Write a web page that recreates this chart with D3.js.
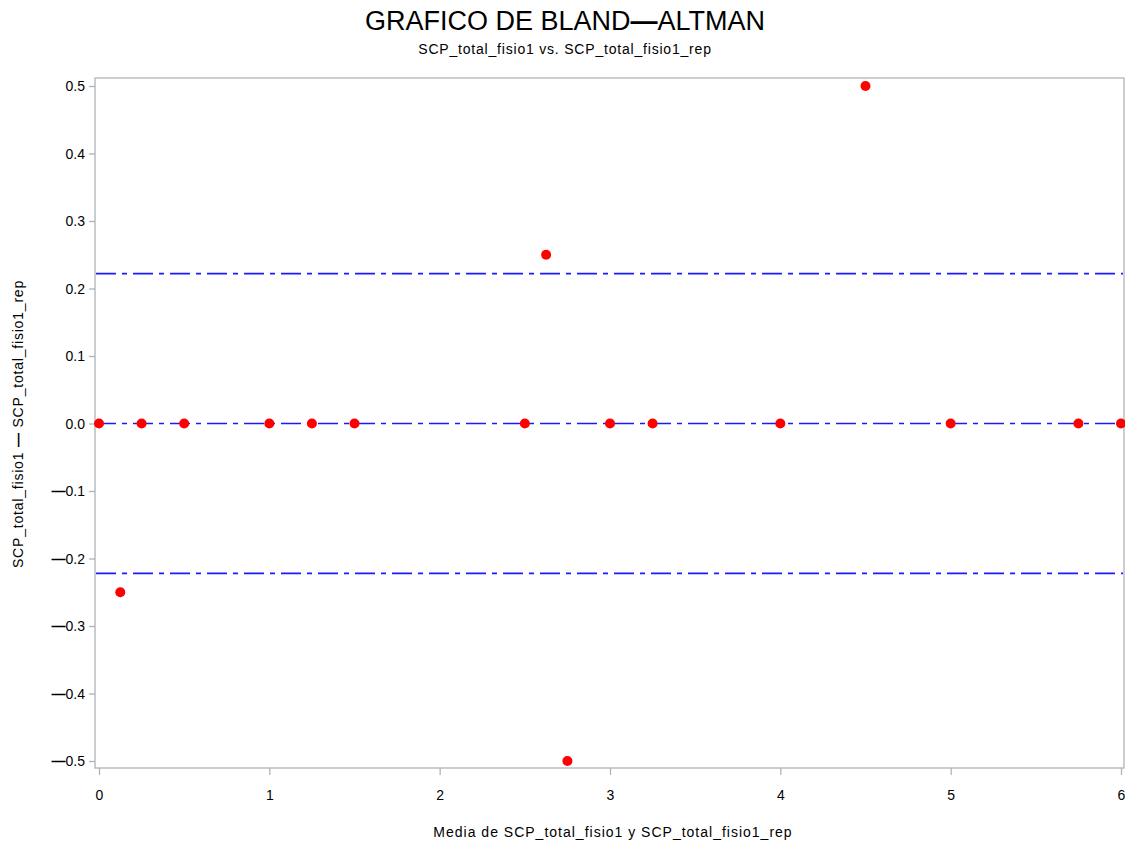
<!DOCTYPE html>
<html lang="es">
<head>
<meta charset="UTF-8">
<title>Grafico de Bland-Altman</title>
<script src="https://cdn.jsdelivr.net/npm/d3@7"></script>
<style>
  body { margin: 0; background: #fff; }
  text { font-family: "Liberation Sans", Arial, sans-serif; fill: #000; }
</style>
</head>
<body>
<div id="chart"></div>
<script>
// data
var meanVals = [0, 0.125, 0.25, 0.5, 1, 1.25, 1.5, 2.5, 2.625, 2.75, 3, 3.25, 4, 4.5, 5, 5.75, 6];
var diffVals = [0, -0.25, 0, 0, 0, 0, 0, 0, 0.25, -0.5, 0, 0, 0, 0.5, 0, 0, 0];
var refLines = [0.222, 0, -0.222];
var xTicks = [0, 1, 2, 3, 4, 5, 6];
var yTicks = [0.5, 0.4, 0.3, 0.2, 0.1, 0.0, -0.1, -0.2, -0.3, -0.4, -0.5];

var W = 1125, H = 845;
var frame = {left: 95, top: 78, right: 1124, bottom: 768};

var svg = d3.select("#chart").append("svg")
    .attr("width", W).attr("height", H);

var x = d3.scaleLinear().domain([0, 6]).range([99, 1121]);
var y = d3.scaleLinear().domain([-0.5, 0.5]).range([761, 86]);

// title
var title = svg.append("text").attr("x", 565).attr("y", 30)
    .attr("text-anchor", "middle").style("font-size", "27px");
title.append("tspan").text("GRAFICO DE BLAND");
title.append("tspan").style("font-weight", "bold").text("\u2014");
title.append("tspan").text("ALTMAN");
svg.append("text").attr("x", 565).attr("y", 54)
    .attr("text-anchor", "middle").style("font-size", "14px")
    .style("letter-spacing", "0.8px")
    .text("SCP_total_fisio1 vs. SCP_total_fisio1_rep");

// frame
svg.append("rect")
    .attr("x", frame.left).attr("y", frame.top)
    .attr("width", frame.right - frame.left).attr("height", frame.bottom - frame.top)
    .attr("fill", "none").attr("stroke", "#b0b4b8").attr("stroke-width", 1.3);

// y axis
var yAxis = svg.append("g").attr("transform", "translate(" + frame.left + ",0)")
    .call(d3.axisLeft(y).tickValues(yTicks).tickSize(6).tickPadding(4).tickFormat(""));
yAxis.select(".domain").remove();
yAxis.selectAll(".tick line").attr("stroke", "#b0b4b8").attr("stroke-width", 1.3);
yAxis.selectAll(".tick").each(function(d) {
  var t = d3.select(this).append("text")
      .attr("x", -10).attr("dy", "0.35em")
      .attr("text-anchor", "end").style("font-size", "14px");
  if (d < 0) {
    t.append("tspan").style("font-weight", "bold").text("\u2014");
  }
  t.append("tspan").text(d3.format(".1f")(Math.abs(d)));
});

// x axis
var xAxis = svg.append("g").attr("transform", "translate(0," + frame.bottom + ")")
    .call(d3.axisBottom(x).tickValues(xTicks).tickSize(7).tickPadding(15).tickFormat(d3.format("d")));
xAxis.select(".domain").remove();
xAxis.selectAll(".tick line").attr("stroke", "#b0b4b8").attr("stroke-width", 1.3);
xAxis.selectAll(".tick text").style("font-size", "14px")
    .style("font-family", "Liberation Sans, Arial, sans-serif").attr("fill", "#000");

// axis labels
svg.append("text").attr("x", 613).attr("y", 837)
    .attr("text-anchor", "middle").style("font-size", "14px")
    .style("letter-spacing", "1px")
    .text("Media de SCP_total_fisio1 y SCP_total_fisio1_rep");
var yl = svg.append("text")
    .attr("transform", "translate(23,424) rotate(-90)")
    .attr("text-anchor", "middle").style("font-size", "14px")
    .style("letter-spacing", "0.8px");
yl.append("tspan").text("SCP_total_fisio1 ");
yl.append("tspan").style("font-weight", "bold").text("\u2014");
yl.append("tspan").text(" SCP_total_fisio1_rep");

// reference lines
svg.append("g").selectAll("line")
  .data(refLines)
  .enter().append("line")
    .attr("x1", frame.left + 1).attr("x2", frame.right - 1)
    .attr("y1", function(d) { return y(d); })
    .attr("y2", function(d) { return y(d); })
    .attr("stroke", "#1a1aff").attr("stroke-width", 1.6)
    .attr("stroke-dasharray", "20,6,5,6");

// points
svg.append("g").selectAll("circle")
  .data(meanVals.map(function(m, i) { return {m: m, d: diffVals[i]}; }))
  .enter().append("circle")
    .attr("cx", function(d) { return x(d.m); })
    .attr("cy", function(d) { return y(d.d); })
    .attr("r", 5)
    .attr("fill", "#ff0000");
</script>
</body>
</html>
